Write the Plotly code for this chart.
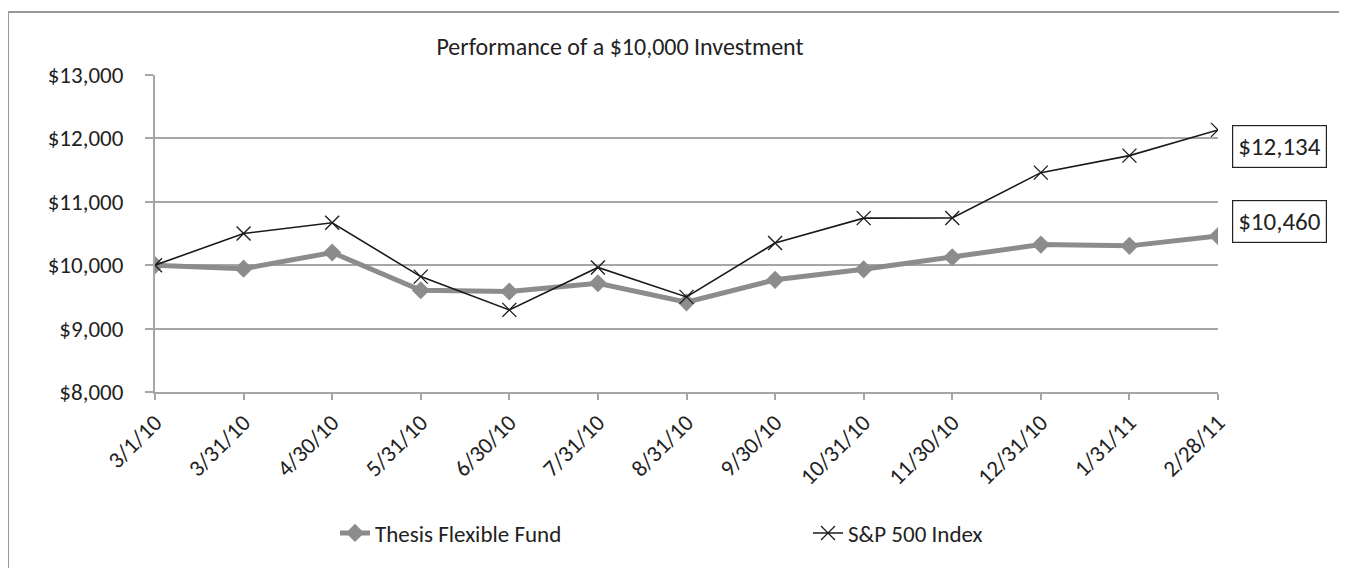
import plotly.graph_objects as go

dates = ["3/1/10", "3/31/10", "4/30/10", "5/31/10", "6/30/10", "7/31/10", "8/31/10",
         "9/30/10", "10/31/10", "11/30/10", "12/31/10", "1/31/11", "2/28/11"]
fund = [10000, 9945, 10200, 9605, 9585, 9715, 9415, 9770, 9935, 10125, 10325, 10305, 10460]
sp500 = [10000, 10500, 10670, 9820, 9295, 9965, 9500, 10350, 10742, 10745, 11460, 11728, 12134]
end_labels = ["$12,134", "$10,460"]
yticks = [8000, 9000, 10000, 11000, 12000, 13000]
ytick_text = ["$8,000", "$9,000", "$10,000", "$11,000", "$12,000", "$13,000"]

FONT = "Carlito, Lato, 'Open Sans', sans-serif"
GRID = "#a6a6a6"
FUND_C = "#8c8c8e"
TXT = "#222222"

OFF = 8  # page body margin
W, H = 1347 - 2 * OFF, 576 - 2 * OFF
# plot area in page coords: x 155..1218, y 75..392
L, T = 155 - OFF, 75 - OFF
R, B = W - (1218 - OFF), H - (392 - OFF)
pw, ph = W - L - R, H - T - B

def px(xpage):
    return (xpage - OFF - L) / pw

def py(ypage):
    return (H - B - (ypage - OFF)) / ph

fig = go.Figure()
fig.add_trace(go.Scatter(
    x=list(range(len(dates))), y=fund, mode="lines+markers", name="Thesis Flexible Fund",
    line=dict(color=FUND_C, width=5),
    marker=dict(symbol="diamond", size=14, color=FUND_C),
    legend="legend",
))
fig.add_trace(go.Scatter(
    x=list(range(len(dates))), y=sp500, mode="lines+markers", name="S&P 500 Index",
    line=dict(color="#1a1a1a", width=1.6),
    marker=dict(symbol="x-thin-open", size=14, line=dict(color="#1a1a1a", width=1.3)),
    legend="legend2",
))

fig.update_layout(
    width=W, height=H,
    margin=dict(l=L, r=R, t=T, b=B, pad=0),
    paper_bgcolor="white", plot_bgcolor="white",
    font=dict(family=FONT, size=23, color=TXT),
    title=dict(text="Performance of a $10,000 Investment", x=px(620) * pw / W + L / W,
               xref="container", xanchor="center",
               y=1 - (47 - OFF) / H, yanchor="middle", font=dict(size=24, family=FONT, color=TXT)),
    xaxis=dict(
        tickmode="array", tickvals=list(range(len(dates))), ticktext=dates,
        range=[0, len(dates) - 1], tickangle=-45,
        showline=True, linecolor=GRID, linewidth=2,
        ticks="outside", ticklen=6, tickcolor=GRID, tickwidth=1.5,
        showgrid=False, zeroline=False,
        tickfont=dict(size=23, family=FONT, color=TXT),
    ),
    yaxis=dict(
        range=[8000, 13000], tickmode="array", tickvals=yticks, ticktext=ytick_text,
        showline=True, linecolor=GRID, linewidth=2,
        ticks="outside", ticklen=8, tickcolor=GRID, tickwidth=1.5,
        showgrid=True, gridcolor=GRID, gridwidth=1.5, zeroline=False,
        ticklabelstandoff=17,
        tickfont=dict(size=23, family=FONT, color=TXT),
    ),
    legend=dict(x=px(335), xanchor="left", y=py(533), yanchor="middle",
                font=dict(size=23, family=FONT, color=TXT), bgcolor="rgba(0,0,0,0)"),
    legend2=dict(x=px(808), xanchor="left", y=py(533), yanchor="middle",
                 font=dict(size=23, family=FONT, color=TXT), bgcolor="rgba(0,0,0,0)"),
    showlegend=True,
)

# End value boxes
for lbl, ypix in zip(end_labels, [146, 221]):
    fig.add_annotation(
        xref="paper", yref="paper", x=px(1232), y=py(ypix), xanchor="left", yanchor="middle",
        text=lbl, showarrow=False, font=dict(size=25, family=FONT, color=TXT),
        bordercolor=TXT, borderwidth=1.2, borderpad=5, bgcolor="white",
    )

# Outer chart border (top and left edges; right and bottom lie outside the view)
fig.add_shape(type="line", xref="paper", yref="paper",
              x0=px(8), x1=px(1400), y0=py(12), y1=py(12),
              line=dict(color="#999999", width=2), layer="below")
fig.add_shape(type="line", xref="paper", yref="paper",
              x0=px(8), x1=px(8), y0=py(12), y1=py(620),
              line=dict(color="#999999", width=2), layer="below")

fig.write_html("out.html")
